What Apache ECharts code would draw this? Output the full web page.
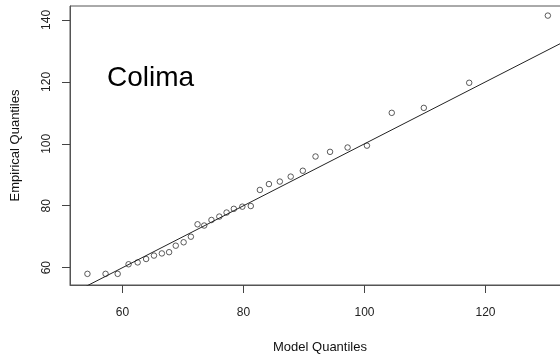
<!DOCTYPE html>
<html>
<head>
<meta charset="utf-8">
<script src="https://cdn.jsdelivr.net/npm/echarts@6/dist/echarts.min.js"></script>
<style>
  html, body { margin: 0; padding: 0; background: #fff; }
  #chart { width: 560px; height: 356px; }
</style>
</head>
<body>
<div id="chart"></div>
<script>
// model quantiles (x) and empirical quantiles (y)
var modelQ = [54.2, 57.2, 59.2, 61.0, 62.5, 63.9, 65.2, 66.5, 67.7, 68.8, 70.1, 71.3,
              72.4, 73.5, 74.7, 76.0, 77.2, 78.4, 79.8, 81.2, 82.7, 84.2, 86.0, 87.8,
              89.8, 91.9, 94.3, 97.2, 100.4, 104.5, 109.8, 117.3, 130.3];
var empiricalQ = [58.0, 58.0, 58.0, 61.1, 61.7, 62.8, 63.9, 64.6, 65.0, 67.1, 68.2, 70.0,
                  74.0, 73.6, 75.4, 76.5, 77.8, 79.0, 79.7, 79.9, 85.1, 87.0, 87.8, 89.4,
                  91.3, 95.9, 97.4, 98.8, 99.4, 110.0, 111.6, 119.7, 141.4];
// reference line y = x
var refLine = [50, 150];
var xTicks = [60, 80, 100, 120];
var yTicks = [60, 80, 100, 120, 140];

(function () {
    var myChart = echarts.init(document.getElementById('chart'));
    var font = 'Liberation Sans, Arial, sans-serif';
    var pts = modelQ.map(function (v, i) { return [v, empiricalQ[i]]; });
    var option = {
        animation: false,
        title: {
            text: 'Colima',
            left: 102,
            top: 59,
            textStyle: { fontFamily: font, fontSize: 28, fontWeight: 'normal', color: '#000' }
        },
        grid: {
            left: 70, top: 6, right: -10, bottom: 71,
            outerBoundsMode: 'none',
            containLabel: false,
            show: true, borderColor: '#555', borderWidth: 1
        },
        xAxis: {
            type: 'value',
            min: 51.32, max: 133.96,
            name: 'Model Quantiles',
            nameLocation: 'middle',
            nameGap: 56,
            nameTextStyle: { fontFamily: font, fontSize: 13, color: '#111' },
            splitLine: { show: false },
            axisLine: { show: true, onZero: false, lineStyle: { color: '#555' } },
            axisTick: { show: true, length: 8, customValues: xTicks, lineStyle: { color: '#444' } },
            axisLabel: { customValues: xTicks, margin: 22, fontFamily: font, fontSize: 12, color: '#222' }
        },
        yAxis: {
            type: 'value',
            min: 54.4, max: 144.5,
            name: 'Empirical Quantiles',
            nameLocation: 'middle',
            nameRotate: 90,
            nameGap: 48,
            nameTextStyle: { fontFamily: font, fontSize: 13, color: '#111' },
            splitLine: { show: false },
            axisLine: { show: true, onZero: false, lineStyle: { color: '#555' } },
            axisTick: { show: true, length: 8, customValues: yTicks, lineStyle: { color: '#444' } },
            axisLabel: { customValues: yTicks, rotate: 90, margin: 17, fontFamily: font, fontSize: 12, color: '#222' }
        },
        series: [
            {
                name: 'line',
                type: 'line',
                data: refLine.map(function (v) { return [v, v]; }),
                symbol: 'none',
                clip: true,
                lineStyle: { color: '#222', width: 1 }
            },
            {
                name: 'quantiles',
                type: 'scatter',
                data: pts,
                symbol: 'circle',
                symbolSize: 5.5,
                itemStyle: { color: '#fff', borderColor: '#333', borderWidth: 1 }
            }
        ]
    };
    myChart.setOption(option);
})();
</script>
</body>
</html>
